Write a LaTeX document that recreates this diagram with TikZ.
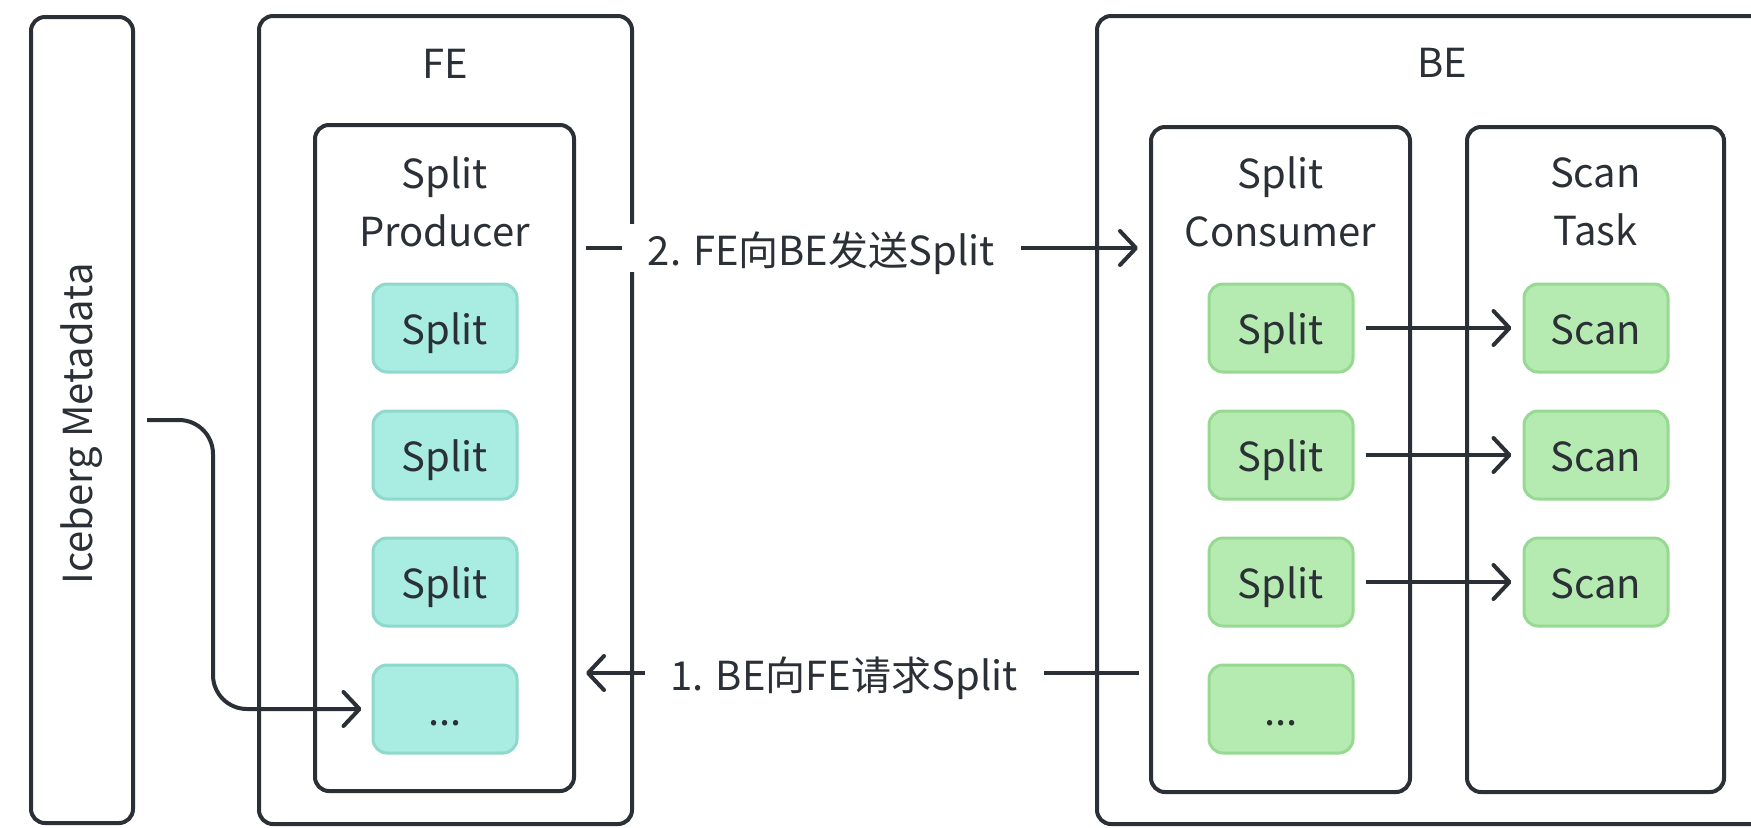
\documentclass[tikz,border=0pt]{standalone}
\usepackage{fontspec}
\setmainfont{Noto Sans CJK SC}
\usetikzlibrary{positioning,arrows.meta}

\definecolor{ink}{HTML}{2B2F36}
\definecolor{fecyan}{HTML}{A8ECE2}
\definecolor{fecyanline}{HTML}{8ED8CC}
\definecolor{begreen}{HTML}{B5EBB0}
\definecolor{begreenline}{HTML}{97D992}

\tikzset{
	frame/.style={draw=ink, line width=2pt, rounded corners=7pt},
	title/.style={text=ink, align=center, font=\fontsize{20}{29}\selectfont},
	chip/.style={rounded corners=7pt, line width=1.5pt, minimum width=72pt, minimum height=44pt, text=ink, text height=16.5pt, text depth=0pt, font=\fontsize{20}{24}\selectfont},
	fechip/.style={chip, draw=fecyanline, fill=fecyan},
	bechip/.style={chip, draw=begreenline, fill=begreen},
	arr/.style={draw=ink, line width=2pt, -{Straight Barb[length=8pt,width=17pt,round]}},
	msg/.style={fill=white, text=ink, inner xsep=13pt, text height=17pt, text depth=0pt, font=\fontsize{20}{24}\selectfont},
}

\begin{document}
\begin{tikzpicture}[x=0.5pt,y=-0.5pt]
	\useasboundingbox (0,0) rectangle (1751,827);
	% metadata column
	\node [frame, minimum width=51pt, minimum height=403pt] (ice) at (82,420) {};
	\node [title, rotate=90] (icetitle) at (82,424) {Iceberg Metadata};
	
	% FE side
	\node [frame, minimum width=186.5pt, minimum height=404pt] (fe) at (445.5,420) {};
	\node [title] (fetitle) at ([yshift=-25pt]fe.north) {FE};
	\node [frame, minimum width=129.5pt, minimum height=333pt] (prod) at (444.5,458) {};
	\node [title] (prodtitle) at ([yshift=-39.5pt]prod.north) {Split\\Producer};
	\node [fechip] (p1) at (445,328) {Split};
	\node [fechip, below=18pt of p1] (p2) {Split};
	\node [fechip, below=18pt of p2] (p3) {Split};
	\node [fechip, below=18pt of p3] (p4) {...};
	
	% BE side
	\node [frame, minimum width=345pt, minimum height=404pt] (be) at (1442,420) {};
	\node [title] (betitle) at ([yshift=-24.5pt]be.north) {BE};
	\node [frame, minimum width=129.5pt, minimum height=332.5pt] (cons) at (1280.5,459.5) {};
	\node [title] (constitle) at ([yshift=-38.5pt]cons.north) {Split\\Consumer};
	\node [frame, minimum width=128.5pt, minimum height=332.5pt] (task) at (1595.5,459.5) {};
	\node [title] (tasktitle) at ([yshift=-38.5pt]task.north) {Scan\\Task};
	\node [bechip] (c1) at (1281,328) {Split};
	\node [bechip, below=18pt of c1] (c2) {Split};
	\node [bechip, below=18pt of c2] (c3) {Split};
	\node [bechip, below=18pt of c3] (c4) {...};
	\node [bechip] (s1) at (1596,328) {Scan};
	\node [bechip, below=18pt of s1] (s2) {Scan};
	\node [bechip, below=18pt of s2] (s3) {Scan};
	
	% connectors
	\coordinate (bend) at (213,0);
	\coordinate (send) at (0,248);
	\coordinate (req) at (0,673);
	\draw [arr, rounded corners=17pt, shorten <=6pt, shorten >=5pt] (ice.east) -| (bend |- p4) -- (p4.west);
	\draw [arr, shorten <=5pt, shorten >=5.5pt] (prod.east |- send) -- node [msg, pos=0.428] {2. FE向BE发送Split} (cons.west |- send);
	\draw [arr, shorten <=5pt, shorten >=5pt] (cons.west |- req) -- node [msg, pos=0.532] {1. BE向FE请求Split} (prod.east |- req);
	\foreach \i in {1,2,3}
		\draw [arr, shorten <=5.5pt, shorten >=5.5pt] (c\i) -- (s\i);
\end{tikzpicture}
\end{document}
